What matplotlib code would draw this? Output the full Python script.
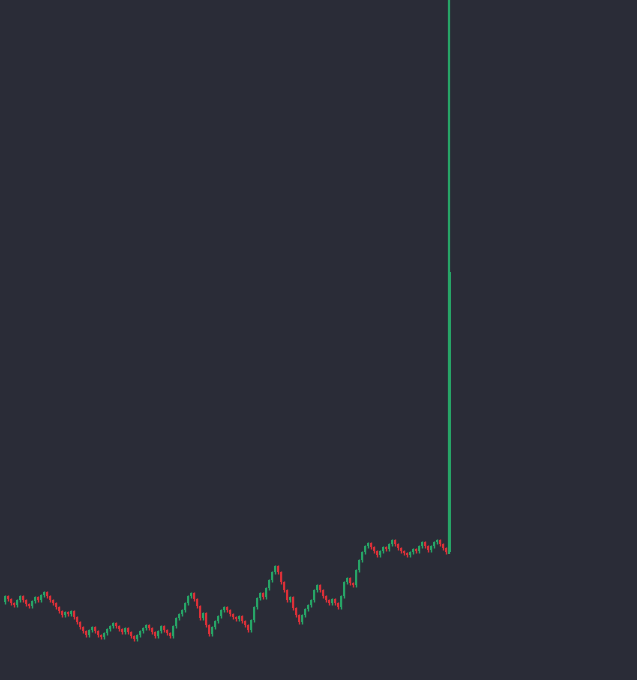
import numpy as np
import matplotlib.pyplot as plt

# close prices, one per candle; each candle opens at the previous close
first_open = 78
closes = [84, 81, 77, 75, 80, 84, 80, 76, 74, 79,
          83, 80, 85, 88, 84, 80, 77, 73, 69, 65,
          68, 66, 69, 63, 58, 53, 49, 45, 50, 53,
          49, 45, 43, 47, 51, 54, 57, 54, 51, 48,
          52, 48, 44, 41, 45, 49, 52, 55, 52, 48,
          44, 49, 54, 50, 47, 44, 54, 62, 66, 70,
          77, 84, 87, 81, 74, 62, 67, 55, 46, 53,
          59, 64, 70, 73, 70, 66, 63, 61, 64, 59,
          55, 50, 60, 73, 82, 87, 83, 92, 100, 108,
          114, 108, 98, 90, 80, 83, 72, 65, 58, 65,
          71, 75, 80, 90, 95, 90, 84, 80, 77, 81,
          77, 73, 84, 98, 102, 97, 95, 110, 120, 128,
          134, 137, 133, 129, 125, 129, 133, 131, 136, 140,
          136, 132, 129, 127, 125, 128, 131, 129, 134, 138,
          134, 130, 134, 138, 140, 136, 132, 128, 408]
spike_high = 720

BG = "#2a2c37"
UP = "#27a567"
DOWN = "#dc3038"

opens = np.array([first_open] + closes[:-1], dtype=float)
closes = np.array(closes, dtype=float)
idx = np.arange(len(closes))

highs = np.maximum(opens, closes) + 1.5
lows = np.minimum(opens, closes) - 1.5
highs[-1] = spike_high

colors = np.where(closes >= opens, UP, DOWN)
wick_w = np.full(len(idx), 1.0)
wick_w[-1] = 1.6

fig = plt.figure(figsize=(6.37, 6.8), dpi=100, facecolor=BG)
ax = fig.add_axes([0, 0, 1, 1])
ax.set_facecolor(BG)

ax.vlines(idx, lows, highs, colors=list(colors), linewidths=wick_w)
body = np.maximum(np.abs(closes - opens), 1.5)
widths = np.full(len(idx), 0.8)
widths[-1] = 1.0
ax.bar(idx, body, bottom=np.minimum(opens, closes), width=widths,
       color=list(colors), linewidth=0)

ax.set_xlim(-5 / 3, 632 / 3)
ax.set_ylim(0, 680)
ax.axis("off")

fig.savefig("out.png", dpi=100, facecolor=BG)
